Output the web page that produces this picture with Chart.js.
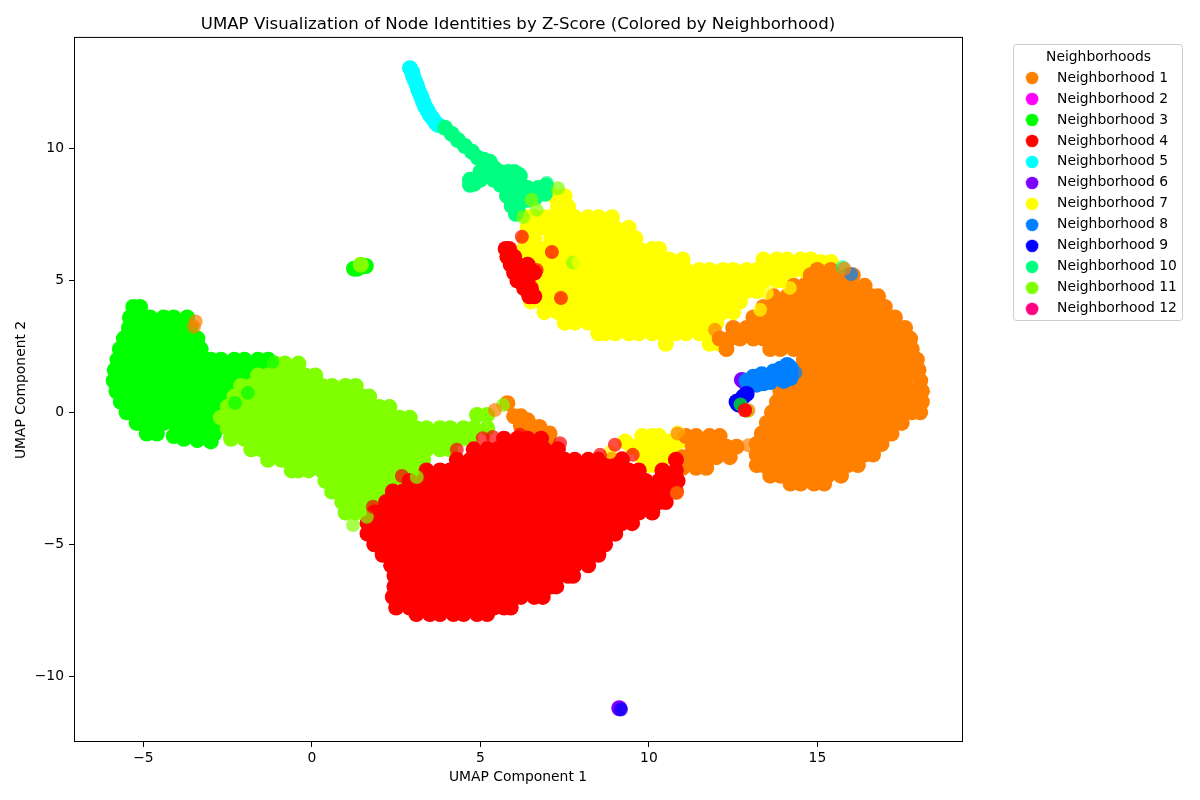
<!DOCTYPE html>
<html>
<head>
<meta charset="utf-8">
<title>UMAP of node identities</title>
<script src="https://cdn.jsdelivr.net/npm/chart.js@4"></script>
<style>
  html, body { margin: 0; padding: 0; background: #fff; }
  canvas { display: block; }
</style>
</head>
<body>
<canvas id="umapChart" width="1200" height="800"></canvas>
<script>
const NEIGHBORHOODS = ["Neighborhood 1", "Neighborhood 2", "Neighborhood 3", "Neighborhood 4", "Neighborhood 5", "Neighborhood 6", "Neighborhood 7", "Neighborhood 8", "Neighborhood 9", "Neighborhood 10", "Neighborhood 11", "Neighborhood 12"];
const COLORS = ["255,128,0", "255,0,255", "0,255,0", "255,0,0", "0,255,255", "128,0,255", "255,255,0", "0,128,255", "0,0,255", "0,255,128", "128,255,0", "255,0,128"];

// Each row is [umap2, umap1, umap1, ...] so a dense band only repeats its y once
const neighborhood1Rows = [
  [5.4,15.0,15.4],
  [5.2,14.8,15.2,15.5,15.9,16.05],
  [4.8,14.3,14.6,15.0,15.3,15.7,16.0,16.4],
  [4.4,13.7,14.1,14.5,14.8,15.2,15.5,15.9,16.2,16.6,16.8],
  [4.0,13.4,13.6,13.9,14.3,14.6,15.0,15.3,15.7,16.0,16.4,16.7,17.0],
  [3.6,13.1,13.4,13.8,14.1,14.5,14.8,15.2,15.5,15.9,16.2,16.6,16.9,17.3],
  [3.2,12.5,12.9,13.2,13.6,13.9,14.3,14.6,15.0,15.3,15.7,16.0,16.4,16.7,17.1,17.4,17.6],
  [2.8,12.1,12.4,12.7,13.1,13.4,13.8,14.1,14.5,14.8,15.2,15.5,15.9,16.2,16.6,16.9,17.3,17.6,17.75],
  [2.4,12.3,13.6,13.9,14.3,14.6,15.0,15.3,15.7,16.0,16.4,16.7,17.1,17.4,17.8],
  [2.0,14.6,14.8,15.2,15.5,15.9,16.2,16.6,16.9,17.3,17.6,17.95],
  [1.6,14.6,15.0,15.3,15.7,16.0,16.4,16.7,17.1,17.4,17.8,18.0],
  [1.2,14.5,14.8,15.2,15.5,15.9,16.2,16.6,16.9,17.3,17.6,18.05],
  [0.8,13.9,14.3,14.6,15.0,15.3,15.7,16.0,16.4,16.7,17.1,17.4,17.8,18.1],
  [0.4,13.8,14.1,14.5,14.8,15.2,15.5,15.9,16.2,16.6,16.9,17.3,17.6,18.0,18.1],
  [0.0,13.65,13.9,14.3,14.6,15.0,15.3,15.7,16.0,16.4,16.7,17.1,17.4,17.8,18.05],
  [-0.4,13.5,13.8,14.1,14.5,14.8,15.2,15.5,15.9,16.2,16.6,16.9,17.3,17.5],
  [-0.8,13.35,13.6,13.9,14.3,14.6,15.0,15.3,15.7,16.0,16.4,16.7,17.1,17.2],
  [-1.2,13.2,13.4,13.8,14.1,14.5,14.8,15.2,15.5,15.9,16.2,16.6,16.9],
  [-1.6,13.2,13.6,13.9,14.3,14.6,15.0,15.3,15.7,16.0,16.4,16.65],
  [-2.0,13.2,13.4,13.8,14.1,14.5,14.8,15.2,15.5,15.9,16.2],
  [-2.4,13.6,13.9,14.3,14.6,15.0,15.3,15.7],
  [-2.7,14.2,14.5,14.9,15.2],
  // tail towards the red lobe
  [-0.9,11.1,11.4,11.8,12.1],
  [-1.3,11.3,11.6,12.0,12.3,12.6],
  [-1.7,11.0,11.3,11.7,12.0,12.4],
  [-2.1,11.0,11.4,11.7],
  // short run between the lime and red lobes
  [0.35,5.8],
  [-0.15,6.2,6.0],
  [-0.3,6.4],
  [-0.5,6.5,6.2],
  [-0.55,6.75],
  [-0.75,6.8,6.4],
  [-0.8,7.05],
  [-1.0,7.0]
];
const neighborhood2Rows = [];
const neighborhood3Rows = [
  [4.0,-5.3,-5.1],
  [3.6,-5.4,-5.1,-4.8,-4.4,-4.1,-3.7],
  [3.2,-5.43,-5.3,-5.0,-4.6,-4.3,-3.9,-3.6],
  [2.8,-5.58,-5.4,-5.1,-4.8,-4.4,-4.1,-3.7,-3.4],
  [2.4,-5.7,-5.3,-5.0,-4.6,-4.3,-3.9,-3.6,-3.3],
  [2.0,-5.77,-5.5,-5.1,-4.8,-4.4,-4.1,-3.7,-3.4,-3.0,-2.7,-2.3,-2.0,-1.6,-1.3],
  [1.6,-5.85,-5.7,-5.3,-5.0,-4.6,-4.3,-3.9,-3.6,-3.2,-2.9,-2.5,-2.2,-1.8,-1.5],
  [1.2,-5.88,-5.5,-5.1,-4.8,-4.4,-4.1,-3.7,-3.4,-3.0,-2.7,-2.3,-2.0],
  [0.8,-5.8,-5.7,-5.3,-5.0,-4.6,-4.3,-3.9,-3.6,-3.2,-2.9,-2.5],
  [0.4,-5.67,-5.5,-5.1,-4.8,-4.4,-4.1,-3.7,-3.4,-3.0,-2.7],
  [0.0,-5.5,-5.3,-5.0,-4.6,-4.3,-3.9,-3.6,-3.2,-2.9,-2.5],
  [-0.4,-5.2,-5.1,-4.8,-4.4,-4.1,-3.7,-3.4,-3.0,-2.7],
  [-0.8,-4.9,-4.6,-3.9,-3.6,-3.2,-2.9],
  [-0.9,-4.1],
  [-1.0,-3.8],
  [-1.05,-3.4],
  [-1.1,-3.0],
  // small isolated group above the main lobe
  [5.45,1.25,1.35],
  [5.55,1.5,1.6]
];
const neighborhood4Rows = [
  [-1.0,5.7,6.1,6.4,6.8],
  [-1.4,4.8,5.2,5.5,5.9,6.2,6.6,6.9,7.3],
  [-1.8,4.3,4.7,5.0,5.4,5.7,6.1,6.4,6.8,7.1,7.5,7.8,8.2,8.5,8.9,9.2,10.8],
  [-2.2,3.4,3.8,4.1,4.5,4.8,5.2,5.5,5.9,6.2,6.6,6.9,7.3,7.6,8.0,8.3,8.7,9.0,9.4,9.7,10.4,10.8],
  [-2.6,2.9,3.3,3.6,4.0,4.3,4.7,5.0,5.4,5.7,6.1,6.4,6.8,7.1,7.5,7.8,8.2,8.5,8.9,9.2,9.6,9.9,10.3,10.6,10.85],
  [-3.0,2.4,2.7,3.1,3.4,3.8,4.1,4.5,4.8,5.2,5.5,5.9,6.2,6.6,6.9,7.3,7.6,8.0,8.3,8.7,9.0,9.4,9.7,10.1,10.4,10.8],
  [-3.4,2.2,2.6,2.9,3.3,3.6,4.0,4.3,4.7,5.0,5.4,5.7,6.1,6.4,6.8,7.1,7.5,7.8,8.2,8.5,8.9,9.2,9.6,9.9,10.3,10.5],
  [-3.8,1.85,2.0,2.4,2.7,3.1,3.4,3.8,4.1,4.5,4.8,5.2,5.5,5.9,6.2,6.6,6.9,7.3,7.6,8.0,8.3,8.7,9.0,9.4,9.7,10.1],
  [-4.2,1.65,1.9,2.2,2.6,2.9,3.3,3.6,4.0,4.3,4.7,5.0,5.4,5.7,6.1,6.4,6.8,7.1,7.5,7.8,8.2,8.5,8.9,9.2,9.5],
  [-4.6,1.65,2.0,2.4,2.7,3.1,3.4,3.8,4.1,4.5,4.8,5.2,5.5,5.9,6.2,6.6,6.9,7.3,7.6,8.0,8.3,8.7,9.0],
  [-5.0,1.85,2.2,2.6,2.9,3.3,3.6,4.0,4.3,4.7,5.0,5.4,5.7,6.1,6.4,6.8,7.1,7.5,7.8,8.2,8.5,8.7],
  [-5.4,2.1,2.4,2.7,3.1,3.4,3.8,4.1,4.5,4.8,5.2,5.5,5.9,6.2,6.6,6.9,7.3,7.6,8.0,8.3,8.5],
  [-5.8,2.35,2.6,2.9,3.3,3.6,4.0,4.3,4.7,5.0,5.4,5.7,6.1,6.4,6.8,7.1,7.5,7.8,8.2],
  [-6.2,2.45,2.7,3.1,3.4,3.8,4.1,4.5,4.8,5.2,5.5,5.9,6.2,6.6,6.9,7.3,7.6,7.75],
  [-6.6,2.45,2.6,2.9,3.3,3.6,4.0,4.3,4.7,5.0,5.4,5.7,6.1,6.4,6.8,7.1,7.25],
  [-7.0,2.4,2.7,3.1,3.4,3.8,4.1,4.5,4.8,5.2,5.5,5.9,6.2,6.6,6.85],
  [-7.4,2.5,2.9,3.3,3.6,4.0,4.3,4.7,5.0,5.4,5.7,5.9],
  [-7.65,3.1,3.5,3.8,4.2,4.5,4.9,5.2],
  // ribbon along the upper left of the yellow lobe
  [6.2,5.75,5.85],
  [5.9,5.8,6.0],
  [5.6,5.9,6.1,6.4],
  [5.3,6.0,6.3,6.6],
  [5.0,6.1,6.4],
  [4.7,6.3,6.5],
  [4.4,6.45,6.6]
];
const neighborhood5Rows = [
  [13.05,2.91],[12.9,2.98],[12.75,3.0],[12.6,3.05],[12.42,3.11],[12.25,3.15],[12.1,3.2],[11.95,3.25],[11.77,3.3],
  [11.6,3.36],[11.45,3.43],[11.28,3.5],[11.15,3.58],[11.0,3.66],[10.9,3.74]
];
const neighborhood6Rows = [
  [1.23,12.76],[1.18,12.82],[0.95,12.95],
  [-11.22,9.12]
];
const neighborhood7Rows = [
  [8.2,7.2,7.5],
  [7.8,7.3,7.6],
  [7.4,6.4,6.6,6.9,7.1,7.5,7.8,8.2,8.5,8.9],
  [7.0,6.4,6.6,6.9,7.3,7.6,8.0,8.3,8.7,9.0,9.4],
  [6.6,6.3,6.6,7.1,7.5,7.8,8.2,8.5,8.9,9.2,9.6],
  [6.2,6.3,6.6,6.9,7.3,7.6,8.0,8.3,8.7,9.0,9.4,9.7,10.1,10.3],
  [5.8,6.4,6.8,7.1,7.5,7.8,8.2,8.5,8.9,9.2,9.6,9.9,10.3,10.6,11.0,13.4,13.8,14.1,14.5,14.8],
  [5.7,15.1,15.4],
  [5.4,6.6,6.9,7.3,7.6,8.0,8.3,8.7,9.0,9.4,9.7,10.1,10.4,10.8,11.1,11.5,11.8,12.2,12.5,12.9,13.2,13.6,13.9,14.3,14.6,15.0,15.3],
  [5.0,6.4,6.8,7.1,7.5,7.8,8.2,8.5,8.9,9.2,9.6,9.9,10.3,10.6,11.0,11.3,11.7,12.0,12.4,12.7,13.1,13.4,13.8,14.0],
  [4.6,6.6,6.9,7.3,7.6,8.0,8.3,8.7,9.0,9.4,9.7,10.1,10.4,10.8,11.1,11.5,11.8,12.2,12.5,12.9,13.2],
  [4.2,6.5,6.8,7.1,7.5,7.8,8.2,8.5,8.9,9.2,9.6,9.9,10.3,10.6,11.0,11.3,11.7,12.0,12.4,12.7],
  [3.8,6.9,7.3,7.6,8.0,8.3,8.7,9.0,9.4,9.7,10.1,10.4,10.8,11.1,11.5,11.8,12.2,12.5],
  [3.4,7.5,7.8,8.2,8.5,8.9,9.2,9.6,9.9,10.3,10.6,11.0,11.3,11.7,12.0],
  [3.0,8.5,8.7,9.0,9.4,9.7,10.1,10.4,10.8,11.1,11.5,11.75],
  [2.6,10.5,11.8,12.1],
  // patch sitting on the red tail
  [-0.9,9.8,10.1,10.3],
  [-1.1,9.3,10.6,10.9],
  [-1.3,9.5,9.8,10.1,10.4,10.7],
  [-1.7,9.8,10.1,10.5],
  [-2.0,10.0,10.2]
];
const neighborhood8Rows = [
  [1.15,13.0,13.4],[1.2,12.9,13.2],[1.3,13.4,13.8],[1.25,13.6],[1.4,13.6,14.0],[1.45,13.8,14.2],
  [1.55,14.0],[1.6,14.2],[1.7,14.2],
  // lower and upper edges of the bar
  [1.05,13.2],[1.1,13.4],[1.15,13.6],[1.2,14.0],[1.3,14.2],
  [1.35,13.1],[1.45,13.35],[1.55,13.7],[1.65,13.9],[1.8,14.1]
];
const neighborhood9Rows = [
  [0.4,12.6],[0.45,12.7],[0.6,12.8],[0.7,12.9],[0.3,12.65]
];
const neighborhood10Rows = [
  [10.79,3.95],[10.56,4.15],[10.33,4.33],[10.1,4.54],[9.88,4.75],[9.65,4.93],[9.58,5.1],[9.5,5.28],[9.27,5.16,5.4],
  [9.12,5.0,5.58,5.82,6.0],[8.97,6.17,5.22],[8.82,5.7,5.93,4.69,4.99,5.4],[8.67,6.17,4.81],[8.63,4.69,5.6],[8.51,5.88,6.71,6.4],
  [8.36,6.11,6.47],[8.21,5.79],[8.06,6.0,6.41],[8.14,6.23,6.62],[7.83,5.93],[7.76,6.11],[7.53,6.05],[8.59,6.94],
  [8.29,6.91],[9.04,5.46,5.7,6.1]
];
const neighborhood11Rows = [
  [1.85,-1.1,-0.8,-0.4],
  [1.4,-1.6,-1.3,-0.9,-0.6,-0.2,0.1],
  [1.0,-2.1,-1.8,-1.5,-1.1,-0.8,-0.4,-0.1,0.3,0.6,1.0,1.3],
  [0.6,-2.3,-2.0,-1.6,-1.3,-0.9,-0.6,-0.2,0.1,0.5,0.8,1.2,1.5,1.7],
  [0.2,-2.5,-2.2,-1.8,-1.5,-1.1,-0.8,-0.4,-0.1,0.3,0.6,1.0,1.3,1.7,2.0,2.3],
  [-0.1,4.9,5.2],
  [-0.2,-2.7,-2.3,-2.0,-1.6,-1.3,-0.9,-0.6,-0.2,0.1,0.5,0.8,1.2,1.5,1.9,2.2,2.6,2.9],
  [-0.6,-2.5,-2.2,-1.8,-1.5,-1.1,-0.8,-0.4,-0.1,0.3,0.6,1.0,1.3,1.7,2.0,2.4,2.7,3.1,3.4,3.8,4.1,4.5,4.8,5.2],
  [-1.0,-2.4,-2.0,-1.6,-1.3,-0.9,-0.6,-0.2,0.1,0.5,0.8,1.2,1.5,1.9,2.2,2.6,2.9,3.3,3.6,4.0,4.3,4.7],
  [-1.4,-1.8,-1.5,-1.1,-0.8,-0.4,-0.1,0.3,0.6,1.0,1.3,1.7,2.0,2.4,2.7,3.1,3.4,3.8,4.1],
  [-1.8,-1.3,-0.9,-0.6,-0.2,0.1,0.5,0.8,1.2,1.5,1.9,2.2,2.6,2.9,3.3],
  [-2.2,-0.6,-0.4,-0.1,0.3,0.6,1.0,1.3,1.7,2.0,2.4,2.7,3.0],
  [-2.6,0.4,0.8,1.2,1.5,1.9,2.2,2.6],
  [-3.0,0.6,1.0,1.3,1.7,2.0],
  [-3.4,0.9,1.2,1.5,1.8],
  [-3.8,1.0,1.3,1.6],
  [5.6,1.45]
];
const neighborhood12Rows = [];

// Lone points that stay visibly see-through, listed as [umap1, umap2]
const neighborhood1Strays = [[-3.45,3.45],[-3.5,3.25],[5.43,0.09],[11.96,3.13],[10.85,-0.8],[12.95,-1.25],[15.8,5.45],[12.95,0.08],[10.83,-3.06]];
const neighborhood2Strays = [];
const neighborhood3Strays = [[-4.75,-0.65],[-2.28,0.36],[-1.9,0.74],[-1.18,1.92],[12.72,0.3]];
const neighborhood4Strays = [[2.67,-2.41],[1.81,-3.58],[2.52,-3.2],[5.07,-0.98],[4.3,-1.42],[5.37,-0.93],[6.17,-0.85],[7.36,-1.17],[8.55,-1.61],[8.99,-1.23],[9.52,-1.61],[9.2,-1.73],[7.39,4.34],[6.23,6.66],[7.12,6.08],[6.67,5.4],[12.85,0.08],[12.85,0.08]];
const neighborhood5Strays = [];
const neighborhood6Strays = [];
const neighborhood7Strays = [[13.3,3.89],[13.5,4.53],[14.18,4.72],[7.9,5.7],[8.85,-1.5],[10.85,-0.75]];
const neighborhood8Strays = [[16.0,5.25],[14.35,1.5]];
const neighborhood9Strays = [[9.17,-11.27]];
const neighborhood10Strays = [[15.75,5.5],[6.97,8.7]];
const neighborhood11Strays = [[3.11,-2.45],[1.63,-3.96],[4.48,-1.04],[5.67,0.28],[1.22,-4.27],[7.75,5.68],[7.3,8.5],[6.67,7.68],[6.27,7.41],[6.52,8.06],[12.92,0.05]];
const neighborhood12Strays = [];

const allRows = [neighborhood1Rows, neighborhood2Rows, neighborhood3Rows, neighborhood4Rows, neighborhood5Rows, neighborhood6Rows, neighborhood7Rows, neighborhood8Rows, neighborhood9Rows, neighborhood10Rows, neighborhood11Rows, neighborhood12Rows];
const allStrays = [neighborhood1Strays, neighborhood2Strays, neighborhood3Strays, neighborhood4Strays, neighborhood5Strays, neighborhood6Strays, neighborhood7Strays, neighborhood8Strays, neighborhood9Strays, neighborhood10Strays, neighborhood11Strays, neighborhood12Strays];

// Chart.js paints low order values last, so yellow goes in first and the small groups last
const DRAW_ORDER = [11, 2, 10, 6, 7, 4, 12, 3, 2, 5, 9, 1];

const FONT = "'DejaVu Sans', sans-serif";

function rowsToPoints(rows) {
  return rows.flatMap(([y, ...xs]) => xs.map((x) => ({ x, y })));
}

function legendDot(rgb) {
  const dot = document.createElement("canvas");
  dot.width = 14;
  dot.height = 14;
  const ctx = dot.getContext("2d");
  ctx.fillStyle = `rgb(${rgb})`;
  ctx.beginPath();
  ctx.arc(7, 7, 6.3, 0, Math.PI * 2);
  ctx.fill();
  return dot;
}

function minusSign(value) {
  return String(value).replace("-", "\u2212");
}

const coreDatasets = NEIGHBORHOODS.map((name, i) => ({
  label: name,
  data: rowsToPoints(allRows[i]),
  backgroundColor: `rgb(${COLORS[i]})`,
  pointRadius: 8,
  borderWidth: 0,
  order: DRAW_ORDER[i] + 20,
}));

const strayDatasets = NEIGHBORHOODS.map((name, i) => ({
  label: name,
  data: allStrays[i].map(([x, y]) => ({ x, y })),
  backgroundColor: `rgba(${COLORS[i]},0.7)`,
  pointRadius: 7,
  borderWidth: 0,
  order: i === 3 ? 0 : 1,
}));

// Puts the legend outside the axes, with its rounded frame
const legendFrame = {
  id: "legendFrame",
  afterLayout(chart) {
    const legend = chart.legend;
    legend.left = 1007;
    legend.right = 1190;
    legend.width = 183;
    legend.top = 44;
    legend.bottom = 340;
    legend.height = 296;
  },
  beforeDraw(chart) {
    const ctx = chart.ctx;
    ctx.save();
    ctx.strokeStyle = "#cccccc";
    ctx.lineWidth = 1;
    ctx.beginPath();
    ctx.roundRect(1013.5, 44.5, 169, 276, 3);
    ctx.stroke();
    ctx.restore();
  },
};

// All four spines, on top of the points
const axesFrame = {
  id: "axesFrame",
  afterDatasetsDraw(chart) {
    const { ctx, chartArea } = chart;
    ctx.save();
    ctx.strokeStyle = "#000";
    ctx.lineWidth = 1;
    ctx.strokeRect(chartArea.left + 0.5, chartArea.top - 0.5, chartArea.width, chartArea.height);
    ctx.restore();
  },
};

function axisOptions(min, max, titleText, titlePad) {
  return {
    type: "linear",
    min,
    max,
    border: { display: false },
    grid: { drawOnChartArea: false, drawTicks: true, tickLength: 5, tickColor: "#000", tickWidth: 1 },
    ticks: {
      stepSize: 5,
      includeBounds: false,
      color: "#000",
      padding: 5,
      maxRotation: 0,
      autoSkip: false,
      font: { family: FONT, size: 13.89 },
      callback: minusSign,
    },
    title: {
      display: true,
      text: titleText,
      color: "#000",
      font: { family: FONT, size: 13.89 },
      padding: titlePad,
    },
  };
}

const xAxis = axisOptions(-7.06, 19.29, "UMAP Component 1", { top: 0, bottom: 14.7 });
xAxis.ticks.padding = 3;
xAxis.afterFit = (scale) => { scale.height = 58; };
const yAxis = axisOptions(-12.5, 14.2, "UMAP Component 2", { top: 12.7, bottom: 0 });
yAxis.afterFit = (scale) => { scale.width = 74; };

new Chart(document.getElementById("umapChart"), {
  type: "scatter",
  data: { datasets: coreDatasets.concat(strayDatasets) },
  plugins: [legendFrame, axesFrame],
  options: {
    responsive: false,
    animation: false,
    events: [],
    layout: { padding: { right: 238 } },
    scales: { x: xAxis, y: yAxis },
    plugins: {
      tooltip: { enabled: false },
      title: {
        display: true,
        fullSize: false,
        text: "UMAP Visualization of Node Identities by Z-Score (Colored by Neighborhood)",
        color: "#000",
        font: { family: FONT, size: 16.6, weight: "normal" },
        padding: { top: 15, bottom: 3 },
      },
      legend: {
        position: "chartArea",
        align: "start",
        title: {
          display: true,
          text: "Neighborhoods",
          color: "#000",
          font: { family: FONT, size: 13.89, lineHeight: 1 },
          padding: { top: 6, bottom: 0 },
        },
        labels: {
          color: "#000",
          font: { family: FONT, size: 13.89 },
          usePointStyle: true,
          pointStyleWidth: 36,
          boxHeight: 9,
          padding: 7.1,
          generateLabels: (chart) =>
            NEIGHBORHOODS.map((name, i) => ({
              text: name,
              fontColor: "#000",
              pointStyle: legendDot(COLORS[i]),
              lineWidth: 0,
              datasetIndex: i,
            })),
        },
      },
    },
  },
});
</script>
</body>
</html>
